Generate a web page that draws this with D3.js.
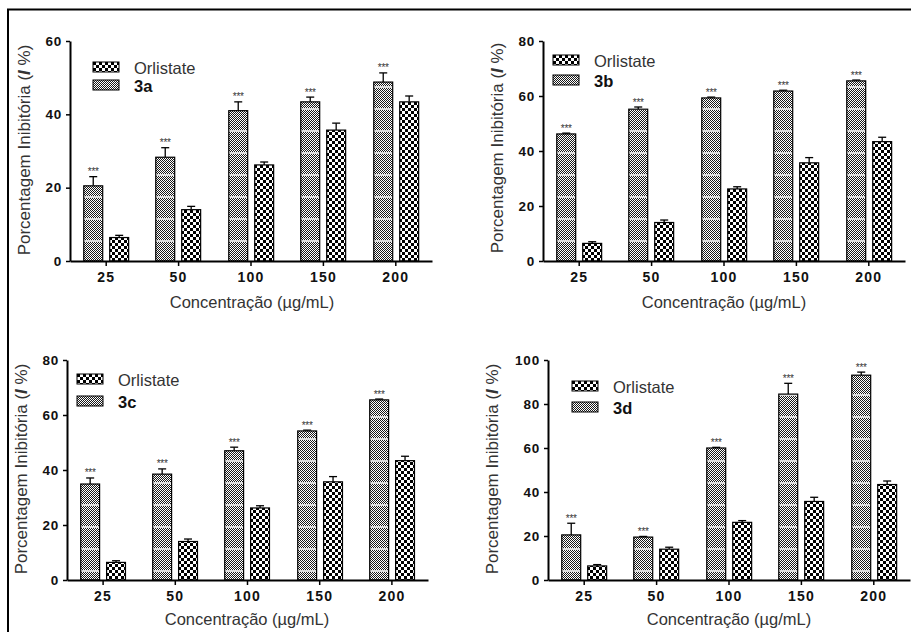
<!DOCTYPE html>
<html><head><meta charset="utf-8">
<script src="https://cdn.jsdelivr.net/npm/d3@7"></script>
<style>body{margin:0;background:#fff}svg{display:block}</style>
</head><body><svg id="c" width="911" height="632"></svg>
<script>
// ---- data ----
const categories = ["25", "50", "100", "150", "200"];
const orlistatValues = [6.4, 14.0, 26.2, 35.7, 43.4];
const orlistatErrors = [0.6, 0.9, 0.8, 1.9, 1.6];
const compoundNames = ["3a", "3b", "3c", "3d"];
const values3a = [20.5, 28.3, 41.0, 43.4, 48.8];
const errors3a = [2.5, 2.6, 2.4, 1.3, 2.5];
const values3b = [46.2, 55.2, 59.3, 61.8, 65.5];
const errors3b = [0.3, 0.8, 0.3, 0.3, 0.3];
const values3c = [34.9, 38.5, 47.0, 54.2, 65.5];
const errors3c = [2.2, 1.9, 1.3, 0.3, 0.3];
const values3d = [20.5, 19.5, 60.0, 84.5, 93.1];
const errors3d = [5.3, 0.3, 0.3, 4.9, 1.4];
const yMaxes = [60, 80, 80, 100];
const yTickValues = [[0,20,40,60],[0,20,40,60,80],[0,20,40,60,80],[0,20,40,60,80,100]];
const significance = "***";
const legendLabel = "Orlistate";
const xTitle = "Concentração (µg/mL)";

const compoundValues = [values3a, values3b, values3c, values3d];
const compoundErrors = [errors3a, errors3b, errors3c, errors3d];

// ---- layout (not data) ----
const layouts = [
  {x0:70,  x1:432, yTop:41,  yBot:261, ylx:24,  yly:150, xtx:252, xty:308, legX:93,  legY:62,  legDy:18},
  {x0:543, x1:905, yTop:41,  yBot:261, ylx:497, yly:148, xtx:724, xty:308, legX:553, legY:55,  legDy:20},
  {x0:67,  x1:428, yTop:360, yBot:580, ylx:21,  yly:469, xtx:247, xty:625, legX:77,  legY:374, legDy:22},
  {x0:548, x1:910, yTop:360, yBot:580, ylx:492, yly:469, xtx:729, xty:625, legX:572, legY:381, legDy:21}
];

const svg = d3.select("#c");
const defs = svg.append("defs");
// coarse checker (Orlistate)
const pc = defs.append("pattern").attr("id","coarse").attr("patternUnits","userSpaceOnUse")
  .attr("width",6).attr("height",6);
pc.append("rect").attr("width",6).attr("height",6).attr("fill","#fff");
pc.append("rect").attr("width",3).attr("height",3).attr("fill","#000");
pc.append("rect").attr("x",3).attr("y",3).attr("width",3).attr("height",3).attr("fill","#000");
// fine checker (compound) with faint light bands
const pf = defs.append("pattern").attr("id","fine").attr("patternUnits","userSpaceOnUse")
  .attr("width",2).attr("height",22);
pf.append("rect").attr("width",2).attr("height",22).attr("fill","#fff");
for (let yy = 0; yy < 20; yy++) {
  pf.append("rect").attr("x", yy % 2).attr("y", yy).attr("width",1).attr("height",1).attr("fill","#1a1a1a");
}
pf.append("rect").attr("x",0).attr("y",20).attr("width",2).attr("height",2).attr("fill","#ddd");
const pf2 = defs.append("pattern").attr("id","fineL").attr("patternUnits","userSpaceOnUse")
  .attr("width",2).attr("height",2);
pf2.append("rect").attr("width",2).attr("height",2).attr("fill","#fff");
pf2.append("rect").attr("width",1).attr("height",1).attr("fill","#1a1a1a");
pf2.append("rect").attr("x",1).attr("y",1).attr("width",1).attr("height",1).attr("fill","#1a1a1a");

// frame
svg.append("path").attr("d","M8,632 V9.5 H911").attr("fill","none").attr("stroke","#000").attr("stroke-width",2);

const font = "Liberation Sans, Arial, sans-serif";

layouts.forEach((L, i) => {
  const g = svg.append("g");
  const x = d3.scaleBand().domain(categories).range([L.x0, L.x1]).padding(0);
  const inner = d3.scaleBand().domain(["c","o"]).range([0, x.bandwidth()]).paddingInner(0.27).paddingOuter(0.53);
  const y = d3.scaleLinear().domain([0, yMaxes[i]]).range([L.yBot, L.yTop]);

  const rows = categories.map((c, k) => ({
    cat: c,
    bars: [
      {key:"c", v: compoundValues[i][k], e: compoundErrors[i][k], fill:"url(#fine)", star:true},
      {key:"o", v: orlistatValues[k], e: orlistatErrors[k], fill:"url(#coarse)", star:false}
    ]
  }));

  const grp = g.selectAll("g.grp").data(rows).join("g").attr("class","grp")
    .attr("transform", d => `translate(${Math.round(x(d.cat))},0)`);
  const bar = grp.selectAll("g.b").data(d => d.bars).join("g").attr("class","b");
  // error bars (up only)
  bar.append("line")
    .attr("x1", d => inner(d.key) + inner.bandwidth()/2).attr("x2", d => inner(d.key) + inner.bandwidth()/2)
    .attr("y1", d => y(d.v)).attr("y2", d => y(d.v + d.e))
    .attr("stroke","#000").attr("stroke-width",1.3);
  bar.append("line")
    .attr("x1", d => inner(d.key) + inner.bandwidth()/2 - 4).attr("x2", d => inner(d.key) + inner.bandwidth()/2 + 4)
    .attr("y1", d => y(d.v + d.e)).attr("y2", d => y(d.v + d.e))
    .attr("stroke","#000").attr("stroke-width",1.3);
  bar.append("rect")
    .attr("x", d => inner(d.key)).attr("width", inner.bandwidth())
    .attr("y", d => y(d.v)).attr("height", d => y(0) - y(d.v))
    .attr("fill", d => d.fill).attr("stroke","#000").attr("stroke-width",1.2);
  bar.filter(d => d.star).append("text")
    .attr("x", d => inner(d.key) + inner.bandwidth()/2)
    .attr("y", d => y(d.v + d.e) - 1.5)
    .attr("text-anchor","middle").attr("font-family",font).attr("font-size",10).attr("fill","#333")
    .attr("letter-spacing",-0.3)
    .text(significance);

  // axes
  const ya = g.append("g").attr("transform",`translate(${L.x0},0)`)
    .call(d3.axisLeft(y).tickValues(yTickValues[i]).tickSize(4).tickSizeOuter(0).tickPadding(4));
  ya.select(".domain").attr("stroke-width",2);
  ya.selectAll(".tick line").attr("stroke-width",1.5);
  ya.selectAll("text").attr("font-family",font).attr("font-size",13.5).attr("font-weight","bold")
    .attr("letter-spacing",0.8).attr("fill","#111");

  const xa = g.append("g").attr("transform",`translate(0,${L.yBot})`)
    .call(d3.axisBottom(x).tickSize(5).tickSizeOuter(0).tickPadding(6));
  xa.select(".domain").attr("stroke-width",2);
  xa.selectAll(".tick line").attr("stroke-width",1.5);
  xa.selectAll("text").attr("font-family",font).attr("font-size",14).attr("font-weight","bold")
    .attr("letter-spacing",1.2).attr("fill","#111");

  // titles
  const yl = g.append("text").attr("transform",`translate(${L.ylx},${L.yly}) rotate(-90)`)
    .attr("text-anchor","middle").attr("dominant-baseline","central")
    .attr("font-family",font).attr("font-size",17).attr("fill","#333");
  yl.append("tspan").text("Porcentagem Inibitória (");
  yl.append("tspan").attr("font-style","italic").attr("font-weight","bold").text("I");
  yl.append("tspan").text(" %)");

  g.append("text").attr("x",L.xtx).attr("y",L.xty).attr("text-anchor","middle")
    .attr("font-family",font).attr("font-size",16.5).attr("fill","#333").text(xTitle);

  // legend
  const leg = [
    {label: legendLabel, fill:"url(#coarse)", bold:false},
    {label: compoundNames[i], fill:"url(#fineL)", bold:true}
  ];
  const lg = g.selectAll("g.leg").data(leg).join("g").attr("class","leg")
    .attr("transform",(d,k)=>`translate(${L.legX},${L.legY + k*L.legDy})`);
  lg.append("rect").attr("width",26).attr("height",10).attr("fill",d=>d.fill)
    .attr("stroke","#000").attr("stroke-width",1);
  lg.append("text").attr("x",41).attr("y",5.5).attr("dominant-baseline","central")
    .attr("font-family",font).attr("font-size",16.5)
    .attr("font-weight",d=>d.bold?"bold":"normal").attr("fill",d=>d.bold?"#111":"#333")
    .text(d=>d.label);
});
</script></body></html>
